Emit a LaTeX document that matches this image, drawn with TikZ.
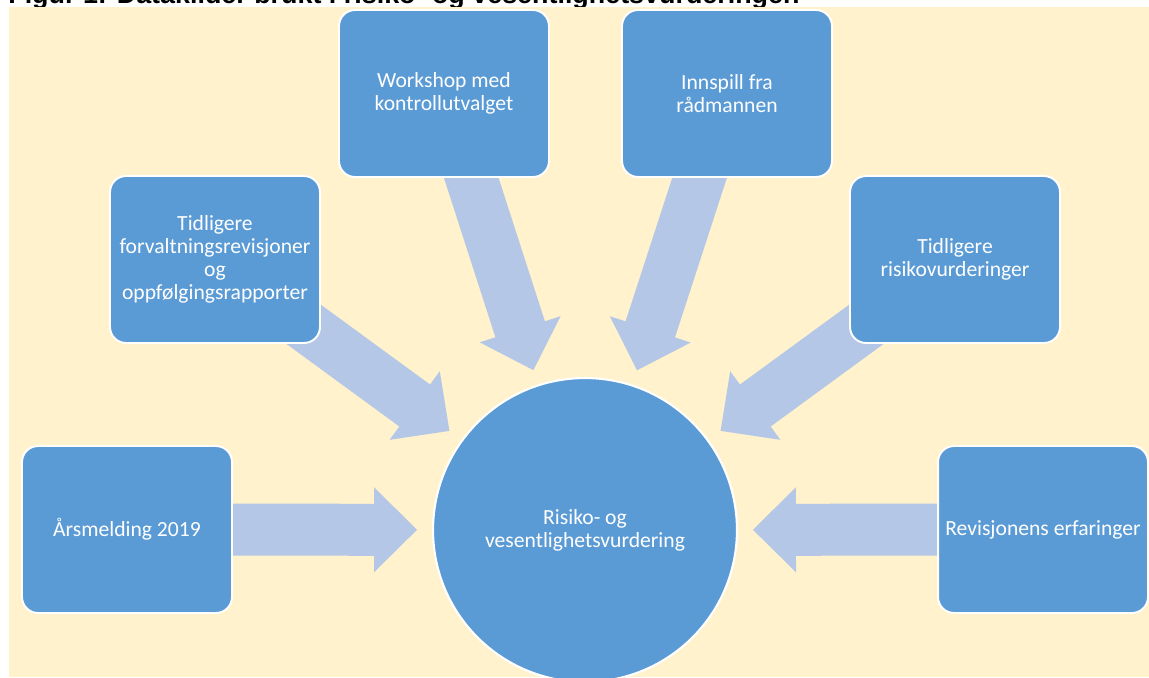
\documentclass[tikz,border=0pt]{standalone}
\usepackage{fontspec}
\setmainfont{Carlito}
\newfontfamily\titlefont{Liberation Sans}
\usepackage{tikz}
\usetikzlibrary{calc}
\definecolor{BoxBlue}{HTML}{5B9BD5}
\definecolor{ArrowBlue}{HTML}{B4C7E7}
\definecolor{PageBg}{HTML}{FFF2CC}
\pgfdeclarelayer{bg}
\pgfdeclarelayer{arr}
\pgfsetlayers{bg,arr,main}

\begin{document}
\begin{tikzpicture}[x=0.02cm,y=-0.02cm,
  box/.style={draw=white,fill=BoxBlue,line width=1.1pt,rounded corners=0.32cm,
    minimum width=4.2cm,minimum height=3.34cm,align=center,text=white,inner sep=2pt,
    font=\fontsize{12.3}{13.1}\selectfont},
  hub/.style={draw=white,fill=BoxBlue,line width=1.2pt,circle,minimum size=6.08cm,
    align=center,text=white,font=\fontsize{12.3}{13.1}\selectfont},
  fat/.style={fill=ArrowBlue}]
  \useasboundingbox (0,0) rectangle (1149,677);
  % the sources
  \node[hub] (risk) at (585,530) {Risiko- og\\vesentlighetsvurdering};
  \node[box] (aars) at (127,529.5)  {Årsmelding 2019};
  \node[box] (forv) at (215,259.5)  {Tidligere\\forvaltningsrevisjoner\\og\\oppfølgingsrapporter};
  \node[box] (work) at (444,93.5)   {Workshop med\\kontrollutvalget};
  \node[box] (innsp) at (727,93.5)  {Innspill fra\\rådmannen};
  \node[box] (rvurd) at (955,259.5) {Tidligere\\risikovurderinger};
  \node[box] (erf) at (1043,529.5)  {Revisjonens erfaringer};
  \begin{pgfonlayer}{bg}
    \node[anchor=base west,inner sep=0pt,font=\titlefont\bfseries\fontsize{15.3}{18}\selectfont] (title) at (8,3.7)
      {Figur 1: Datakilder brukt i risiko- og vesentlighetsvurderingen};
    \fill[PageBg] (9,7) rectangle (1149,677);
  \end{pgfonlayer}
  % block arrows towards the circle
  \begin{pgfonlayer}{arr}
    \foreach \src/\tip in {aars/ta,forv/tf,work/tw,innsp/ti,rvurd/tr,erf/te} {
      \coordinate (\tip) at ($(risk.center)!3.36cm!(\src.center)$);
      \coordinate (\tip h) at ($(\tip)!0.86cm!(\src.center)$);
      \fill[fat] ($(\src.center)!0.52cm!90:(\tip)$) -- ($(\tip h)!0.52cm!90:(\tip)$)
        -- ($(\tip h)!0.85cm!90:(\tip)$) -- (\tip) -- ($(\tip h)!0.85cm!-90:(\tip)$)
        -- ($(\tip h)!0.52cm!-90:(\tip)$) -- ($(\src.center)!0.52cm!-90:(\tip)$) -- cycle;
    }
  \end{pgfonlayer}
\end{tikzpicture}
\end{document}
